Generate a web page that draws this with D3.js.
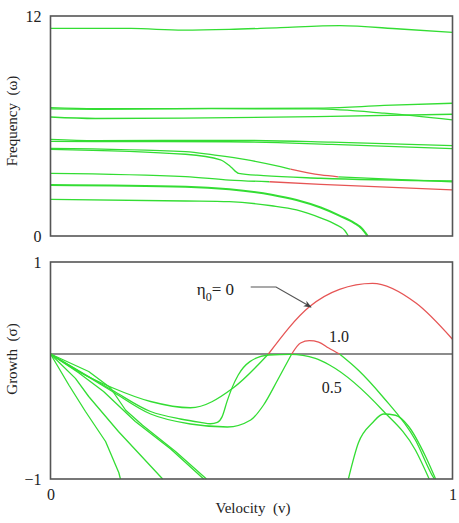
<!DOCTYPE html>
<html>
<head>
<meta charset="utf-8">
<script src="https://cdn.jsdelivr.net/npm/d3@7"></script>
<style>
  body { margin: 0; background: #fff; }
  svg text { font-family: 'Liberation Serif', 'Times New Roman', serif; fill: #222; white-space: pre; }
</style>
</head>
<body>
<svg id="chart" width="459" height="523"></svg>
<script>
'use strict';

// tick labels
var velocityTicks = [0, 1];
var freqTicks = [0, 12];
var growthTicks = [-1, 1];

// frequency branches, [velocity, omega]
var freqA = [[0, 11.33], [0.2, 11.32], [0.33, 11.23], [0.445, 11.27], [0.572, 11.37], [0.72, 11.47], [0.87, 11.29], [1, 11.11]];
var freqB1 = [[0, 7.0], [0.112, 6.94], [0.4, 6.96], [0.68, 6.98], [0.83, 7.12], [1, 7.24]];
var freqB2 = [[0, 6.93], [0.112, 6.91], [0.4, 6.95], [0.66, 6.93], [0.83, 6.7], [1, 6.33]];
var freqB3 = [[0, 6.49], [0.112, 6.41], [0.33, 6.43], [0.66, 6.51], [1, 6.64]];
var freqC1 = [[0, 5.27], [0.112, 5.2], [0.445, 5.22], [0.7, 5.12], [1, 4.93]];
var freqC2 = [[0, 5.16], [0.112, 5.15], [0.445, 5.14], [0.7, 5.0], [1, 4.77]];
var freqD1 = [[0, 4.78], [0.336, 4.6], [0.405, 4.42], [0.49, 4.15], [0.572, 3.78], [0.597, 3.65]];
var freqD1Red = [[0.597, 3.65], [0.672, 3.33], [0.716, 3.23]];
var freqD1Tail = [[0.716, 3.23], [1, 2.95]];
var freqD2 = [[0, 4.73], [0.336, 4.46], [0.423, 4.15], [0.448, 3.78], [0.468, 3.42], [0.53, 3.29], [0.672, 3.15], [1, 3.0]];
var freqE = [[0, 3.42], [0.336, 3.24], [0.445, 3.05], [0.545, 2.96]];
var freqERed = [[0.545, 2.96], [0.672, 2.82], [1, 2.51]];
var freqF = [[0, 2.78], [0.336, 2.69], [0.445, 2.55], [0.55, 2.25], [0.612, 1.96], [0.672, 1.55], [0.72, 1.1], [0.755, 0.72], [0.775, 0.4], [0.789, 0]];
var freqG = [[0, 2.0], [0.336, 1.91], [0.445, 1.87], [0.55, 1.65], [0.612, 1.42], [0.67, 1.0], [0.71, 0.62], [0.732, 0.3], [0.741, 0]];

// growth rates, [velocity, sigma]
var growth1 = [[0, 0], [0.046, -0.25], [0.087, -0.46], [0.137, -0.7], [0.17, -0.95], [0.174, -1]];
var growth2 = [[0, 0], [0.062, -0.195], [0.095, -0.34], [0.169, -0.62], [0.279, -1]];
var growth3 = [[0, 0], [0.07, -0.15], [0.132, -0.3], [0.211, -0.54], [0.299, -0.76], [0.381, -1]];
var growth4 = [[0, 0], [0.095, -0.14], [0.149, -0.27], [0.187, -0.45], [0.229, -0.57], [0.311, -0.78], [0.388, -1]];
var growthEta0 = [[0, 0], [0.075, -0.15], [0.154, -0.27], [0.249, -0.38], [0.348, -0.43], [0.455, -0.27], [0.542, 0]];
var growthEta0Red = [[0.542, 0], [0.644, 0.514], [0.719, 0.703], [0.801, 0.768], [0.91, 0.551], [1, 0.16]];
var growthEta05 = [[0, 0], [0.154, -0.29], [0.249, -0.46], [0.323, -0.52], [0.373, -0.547], [0.398, -0.558], [0.415, -0.547], [0.427, -0.501], [0.439, -0.381], [0.451, -0.275], [0.467, -0.168], [0.496, -0.061], [0.543, -0.008], [0.597, -0.003], [0.659, -0.035], [0.694, -0.088], [0.826, -0.45], [0.908, -0.77], [0.942, -1]];
var growthEta1 = [[0, 0], [0.154, -0.3], [0.249, -0.48], [0.348, -0.56], [0.44, -0.584], [0.498, -0.528], [0.53, -0.408], [0.565, -0.208], [0.6, 0]];
var growthEta1Red = [[0.6, 0], [0.622, 0.12], [0.644, 0.145], [0.667, 0.13], [0.692, 0.065], [0.719, 0]];
var growthEta1Tail = [[0.719, 0], [0.766, -0.13], [0.826, -0.34], [0.908, -0.69], [0.953, -0.99], [0.955, -1]];
var growthHump = [[0.741, -1], [0.766, -0.71], [0.801, -0.55], [0.828, -0.48], [0.858, -0.49], [0.891, -0.58], [0.933, -0.82], [0.958, -1]];

var green = '#33dd33', red = '#e65555', frame = '#555';

var svg = d3.select('#chart');

var x = d3.scaleLinear().domain([0, 1]).range([50.5, 452.5]);
var yFreq = d3.scaleLinear().domain([0, 12]).range([236, 16]);
// growth axis is stretched below zero in the original
var yGrowth = d3.scaleLinear().domain([-1, 0, 1]).range([479, 354, 262]);

function drawCurve(yScale, data, color, width, curve) {
	var line = d3.line()
		.x(function(d) { return x(d[0]); })
		.y(function(d) { return yScale(d[1]); })
		.curve(curve || d3.curveMonotoneX);
	svg.append('path')
		.attr('d', line(data))
		.attr('fill', 'none')
		.attr('stroke', color)
		.attr('stroke-width', width || 1.3)
		.attr('stroke-linejoin', 'round');
}

function drawFrame(yScale) {
	var d = yScale.domain();
	svg.append('rect')
		.attr('x', x(0))
		.attr('y', yScale(d[d.length - 1]))
		.attr('width', x(1) - x(0))
		.attr('height', yScale(d[0]) - yScale(d[d.length - 1]))
		.attr('fill', 'none')
		.attr('stroke', frame)
		.attr('stroke-width', 1.6);
}

function leftAxis(yScale, ticks) {
	var g = svg.append('g')
		.attr('transform', 'translate(' + x(0) + ',0)')
		.call(d3.axisLeft(yScale).tickValues(ticks).tickSize(0).tickPadding(9).tickFormat(d3.format('d')));
	g.select('.domain').remove();
	g.selectAll('text').attr('font-size', 16).style('font-family', "'Liberation Serif', serif").attr('fill', '#222');
}

// top panel: frequency
[freqA, freqB1, freqB2, freqB3, freqC1, freqC2, freqD1, freqD1Tail, freqD2, freqE, freqG]
	.forEach(function(c) { drawCurve(yFreq, c, green); });
drawCurve(yFreq, freqF, green, 2.1);
drawCurve(yFreq, freqD1Red, red);
drawCurve(yFreq, freqERed, red);
drawFrame(yFreq);
leftAxis(yFreq, freqTicks);

// bottom panel: growth
svg.append('line')
	.attr('x1', x(0)).attr('x2', x(1))
	.attr('y1', yGrowth(0)).attr('y2', yGrowth(0))
	.attr('stroke', '#666').attr('stroke-width', 1.6);

[growth1, growth2, growth3, growth4].forEach(function(c) { drawCurve(yGrowth, c, green, 1.3, d3.curveLinear); });
[growthEta0, growthEta05, growthEta1, growthEta1Tail, growthHump].forEach(function(c) { drawCurve(yGrowth, c, green); });
drawCurve(yGrowth, growthEta0Red, red);
drawCurve(yGrowth, growthEta1Red, red);
drawFrame(yGrowth);
leftAxis(yGrowth, growthTicks);

var bottom = svg.append('g')
	.attr('transform', 'translate(0,' + yGrowth(-1) + ')')
	.call(d3.axisBottom(x).tickValues(velocityTicks).tickSize(0).tickPadding(10).tickFormat(d3.format('d')));
bottom.select('.domain').remove();
bottom.selectAll('text').attr('font-size', 16).style('font-family', "'Liberation Serif', serif").attr('fill', '#222');

// axis titles
svg.append('text')
	.attr('transform', 'translate(17,121) rotate(-90)')
	.attr('text-anchor', 'middle')
	.attr('font-size', 15)
	.text('Frequency  (\u03c9)');
svg.append('text')
	.attr('transform', 'translate(17,359) rotate(-90)')
	.attr('text-anchor', 'middle')
	.attr('font-size', 15)
	.text('Growth  (\u03c3)');
svg.append('text')
	.attr('x', 253).attr('y', 513)
	.attr('text-anchor', 'middle')
	.attr('font-size', 15)
	.text('Velocity  (v)');

// annotations
var eta = svg.append('text')
	.attr('x', x(0.364)).attr('y', yGrowth(0.641))
	.attr('font-size', 17);
eta.append('tspan').text('\u03b7');
eta.append('tspan').attr('dy', 6).attr('font-size', 12).text('0');
eta.append('tspan').attr('dy', -6).text('= 0');

svg.append('text').attr('x', x(0.693)).attr('y', yGrowth(0.13)).attr('font-size', 16).text('1.0');
svg.append('text').attr('x', x(0.675)).attr('y', yGrowth(-0.312)).attr('font-size', 16).text('0.5');

svg.append('defs').append('marker')
	.attr('id', 'head')
	.attr('viewBox', '0 0 10 10')
	.attr('refX', 9).attr('refY', 5)
	.attr('markerWidth', 10).attr('markerHeight', 8)
	.attr('markerUnits', 'userSpaceOnUse')
	.attr('orient', 'auto')
	.append('path')
	.attr('d', 'M0,1 L10,5 L0,9 L3,5 Z')
	.attr('fill', '#444');

var arrowPts = [[0.498, 0.728], [0.561, 0.728], [0.648, 0.511]];
svg.append('path')
	.attr('d', d3.line().x(function(d) { return x(d[0]); }).y(function(d) { return yGrowth(d[1]); })(arrowPts))
	.attr('fill', 'none')
	.attr('stroke', '#555')
	.attr('stroke-width', 1.2)
	.attr('marker-end', 'url(#head)');
</script>
</body>
</html>
